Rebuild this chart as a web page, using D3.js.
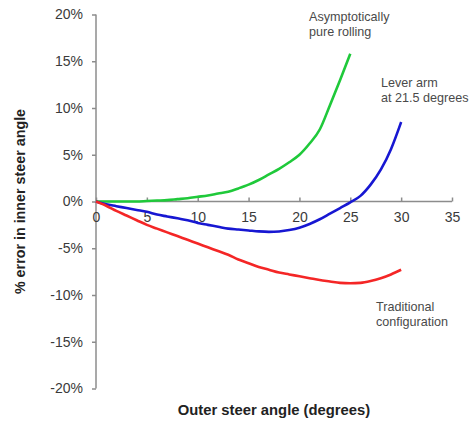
<!DOCTYPE html>
<html>
<head>
<meta charset="utf-8">
<script src="https://cdn.jsdelivr.net/npm/d3@7"></script>
<style>
  body { margin: 0; background: #fff; }
  svg { display: block; font-family: "Liberation Sans", Arial, sans-serif; }
</style>
</head>
<body>
<div id="chart"></div>
<script>
// outer steer angle, degrees
const angles = d3.range(0, 31);
// % error in inner steer angle
const pureRolling = [0, 0, 0, 0, 0, 0.05, 0.1, 0.15, 0.25, 0.35, 0.5, 0.65, 0.85, 1.05, 1.4, 1.8,
  2.3, 2.9, 3.5, 4.2, 5.0, 6.2, 7.7, 10.3, 13.0, 15.8];
const leverArm = [0, -0.3, -0.5, -0.7, -0.9, -1.1, -1.4, -1.6, -1.8, -2.0, -2.3, -2.5, -2.7, -2.9, -3.0,
  -3.1, -3.2, -3.25, -3.2, -3.05, -2.8, -2.4, -1.9, -1.3, -0.7, -0.1, 0.6, 1.8, 3.4, 5.6, 8.5];
const traditional = [0, -0.45, -1.0, -1.5, -2.0, -2.5, -2.9, -3.3, -3.7, -4.1, -4.5, -4.9, -5.3, -5.7,
  -6.2, -6.6, -7.0, -7.3, -7.6, -7.8, -8.0, -8.2, -8.4, -8.55, -8.7, -8.75, -8.7, -8.5, -8.2, -7.8, -7.3];

const xTicks = [0, 5, 10, 15, 20, 25, 30, 35];
const yTicks = [-20, -15, -10, -5, 0, 5, 10, 15, 20];

const width = 470, height = 423;

const svg = d3.select("#chart").append("svg")
  .attr("width", width)
  .attr("height", height);

const x = d3.scaleLinear().domain([0, 35]).range([96, 452]);
const y = d3.scaleLinear().domain([-20, 20]).range([388.5, 14.5]);

const axisColor = "#8c8c8c";
const textColor = "#3a3a3a";

// y axis
const yAxis = svg.append("g")
  .attr("transform", `translate(${x(0)},0)`)
  .call(d3.axisLeft(y).tickValues(yTicks).tickSize(4).tickPadding(9).tickFormat(d => d + "%"));
yAxis.select(".domain").attr("stroke", axisColor).attr("stroke-width", 1.5).attr("d", `M0,${y(-20)}V${y(20)}`);
yAxis.selectAll(".tick line").attr("stroke", axisColor).attr("stroke-width", 1.5);
yAxis.selectAll(".tick text").attr("fill", textColor).style("font-size", "14px")
  .style("font-family", "Liberation Sans, Arial, sans-serif");

// x axis through zero, ticks pointing up
const xAxis = svg.append("g")
  .attr("transform", `translate(0,${y(0)})`)
  .call(d3.axisTop(x).tickValues(xTicks).tickSize(4).tickFormat(d3.format("d")));
xAxis.select(".domain").attr("stroke", axisColor).attr("stroke-width", 1.5).attr("d", `M${x(0)},0H${x(35)}`);
xAxis.selectAll(".tick line").attr("stroke", axisColor).attr("stroke-width", 1.5);
xAxis.selectAll(".tick text")
  .attr("y", 11).attr("dy", "0.71em")
  .attr("fill", textColor).style("font-size", "14px")
  .style("font-family", "Liberation Sans, Arial, sans-serif");

// curves
const line = d3.line()
  .x((d, i) => x(angles[i]))
  .y(d => y(d))
  .curve(d3.curveMonotoneX);

const series = [
  { values: pureRolling, color: "#1fc93a" },
  { values: leverArm, color: "#1717d2" },
  { values: traditional, color: "#f42626" }
];

svg.selectAll("path.series")
  .data(series)
  .enter()
  .append("path")
  .attr("class", "series")
  .attr("fill", "none")
  .attr("stroke", d => d.color)
  .attr("stroke-width", 2.6)
  .attr("stroke-linejoin", "round")
  .attr("d", d => line(d.values));

// annotations
const notes = [
  { lines: ["Asymptotically", "pure rolling"], x: 309, y: 21 },
  { lines: ["Lever arm", "at 21.5 degrees"], x: 381, y: 87 },
  { lines: ["Traditional", "configuration"], x: 376, y: 311 }
];

notes.forEach(n => {
  const t = svg.append("text")
    .attr("x", n.x).attr("y", n.y)
    .attr("fill", "#4a4a4a")
    .style("font-size", "12.6px");
  n.lines.forEach((l, i) => {
    t.append("tspan").attr("x", n.x).attr("dy", i ? 14.5 : 0).text(l);
  });
});

// axis titles
svg.append("text")
  .attr("transform", `translate(25,${y(0)}) rotate(-90)`)
  .attr("text-anchor", "middle")
  .attr("fill", "#222")
  .style("font-size", "14.3px")
  .style("font-weight", "bold")
  .text("% error in inner steer angle");

svg.append("text")
  .attr("x", 274)
  .attr("y", 415)
  .attr("text-anchor", "middle")
  .attr("fill", "#222")
  .style("font-size", "14.8px")
  .style("font-weight", "bold")
  .text("Outer steer angle (degrees)");
</script>
</body>
</html>
